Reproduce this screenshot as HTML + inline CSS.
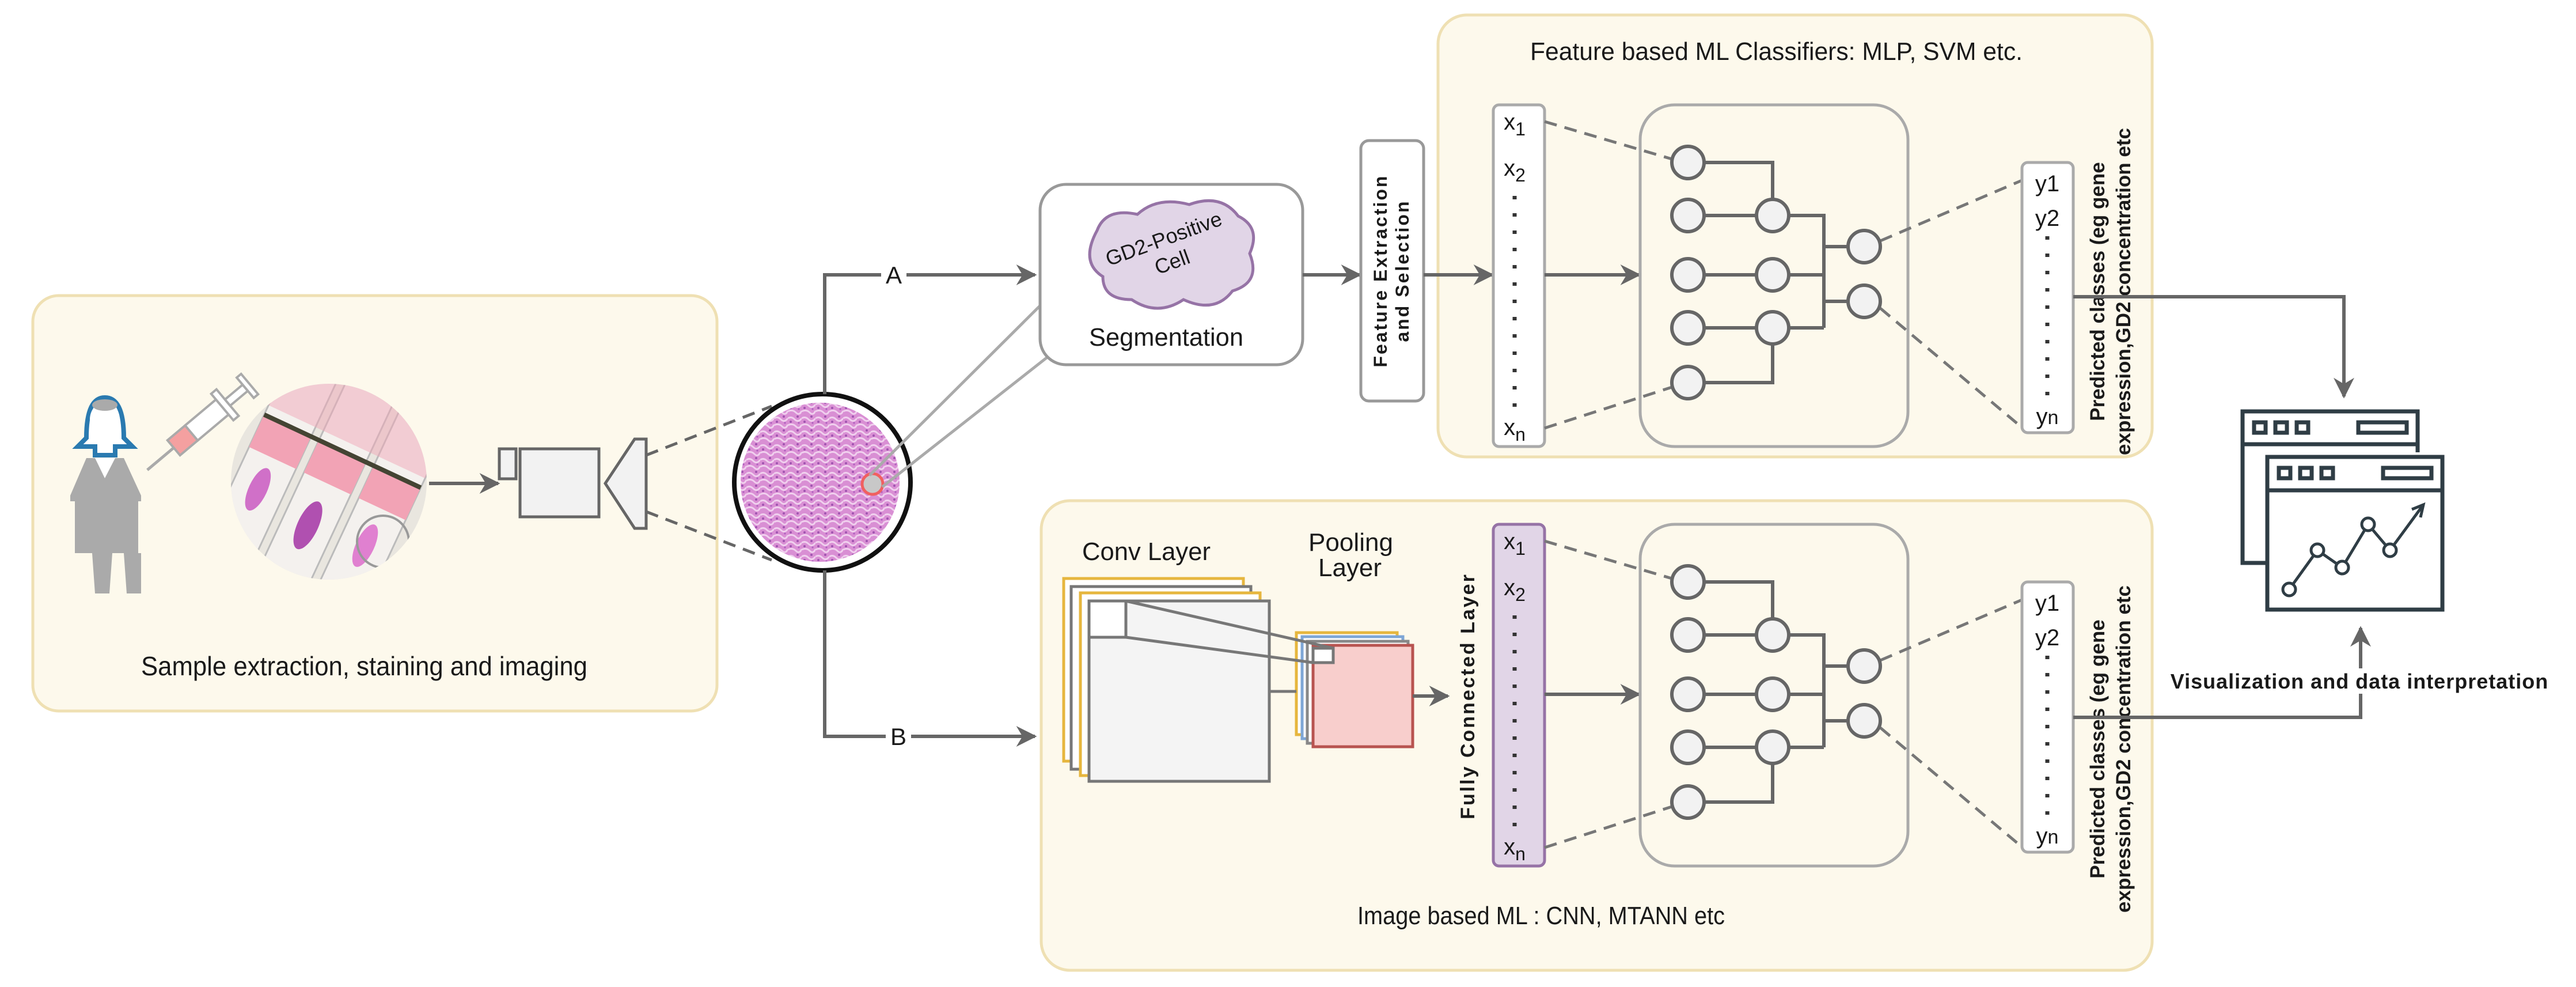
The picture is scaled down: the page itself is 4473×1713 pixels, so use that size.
<!DOCTYPE html>
<html><head><meta charset="utf-8"><style>
html,body{margin:0;padding:0;background:#fff}
svg{display:block}
text{font-family:"Liberation Sans",sans-serif;fill:#1a1a1a}
</style></head><body>
<svg width="4473" height="1713" viewBox="0 0 4473 1713" xmlns="http://www.w3.org/2000/svg">
<defs>
<marker id="ar" viewBox="0 0 10 10" refX="9" refY="5" markerWidth="6" markerHeight="6" orient="auto" markerUnits="strokeWidth"><path d="M0,0 L10,5 L0,10 L3,5 Z" fill="#666"/></marker>
<pattern id="tis" width="24" height="24" patternUnits="userSpaceOnUse">
<rect width="24" height="24" fill="#d98fd4"/>
<path d="M0 6 Q6 2 12 8 T24 6 M0 18 Q8 14 14 20 T24 17" stroke="#f0d0ee" stroke-width="3" fill="none"/>
<circle cx="5" cy="12" r="2" fill="#a054b0"/><circle cx="17" cy="3" r="2" fill="#a054b0"/><circle cx="19" cy="14" r="1.6" fill="#b060c0"/>
</pattern>
<g id="nn">
<rect x="2848" y="182" width="465" height="593" rx="60" fill="none" stroke="#aaa" stroke-width="5"/>
<g fill="none" stroke="#666" stroke-width="6">
<path d="M2959 282 H3078 V346 M2959 374 H3050 M2959 477 H3050 M2959 569 H3050 M2959 664 H3078 V597"/>
<path d="M3106 374 H3167 V569 M3106 477 H3167 M3106 569 H3167 M3167 428 H3209 M3167 523 H3209"/>
</g>
<g fill="none" stroke="#777" stroke-width="5" stroke-dasharray="22 14">
<path d="M2682 211 L2903 276 M2682 743 L2903 672 M3265 418 L3511 313 M3265 535 L3511 742"/>
</g>
<g fill="#f2f2f2" stroke="#666" stroke-width="6">
<circle cx="2931" cy="282" r="28"/><circle cx="2931" cy="374" r="28"/><circle cx="2931" cy="477" r="28"/><circle cx="2931" cy="569" r="28"/><circle cx="2931" cy="664" r="28"/>
<circle cx="3078" cy="374" r="28"/><circle cx="3078" cy="477" r="28"/><circle cx="3078" cy="569" r="28"/>
<circle cx="3237" cy="428" r="28"/><circle cx="3237" cy="523" r="28"/>
</g>
<rect x="3511" y="282" width="89" height="469" rx="10" fill="#fff" stroke="#aaa" stroke-width="5"/>
<text x="3555" y="332" font-size="40" text-anchor="middle">y1</text>
<text x="3555" y="392" font-size="40" text-anchor="middle">y2</text>
<text x="3555" y="736" font-size="40" text-anchor="middle">y<tspan font-size="34">n</tspan></text>
<line x1="3555" y1="410" x2="3555" y2="700" stroke="#333" stroke-width="7" stroke-dasharray="6 24"/>
</g>
</defs>

<!-- left box -->
<rect x="57" y="513" width="1188" height="721" rx="45" fill="#fdf9ec" stroke="#efe0b3" stroke-width="5"/>
<text x="245" y="1172" font-size="46" textLength="775" lengthAdjust="spacingAndGlyphs">Sample extraction, staining and imaging</text>
<!-- person -->
<g>
<path d="M150 760 Q150 690 182 690 Q215 690 215 760 L230 775 L200 775 L200 790 L165 790 L165 775 L135 775 Z" fill="#fff" stroke="#2a7ab0" stroke-width="8"/>
<ellipse cx="182" cy="728" rx="26" ry="30" fill="#fff"/>
<ellipse cx="182" cy="703" rx="22" ry="10" fill="#aaa"/>
<path d="M150 795 L215 795 L245 860 L245 870 L240 870 L240 960 L245 960 L245 1030 L220 1030 L215 960 L195 960 L190 1030 L165 1030 L160 960 L130 960 L130 870 L122 870 L122 860 Z" fill="#aaa"/>
<path d="M165 795 L182 830 L200 795 Z" fill="#fff"/>
</g>
<!-- syringe -->
<g transform="rotate(-40 340 745)">
<rect x="290" y="728" width="110" height="34" fill="#f4a0a0" stroke="#aaa" stroke-width="4"/>
<rect x="330" y="728" width="70" height="34" fill="#fff" stroke="#aaa" stroke-width="4"/>
<line x1="230" y1="745" x2="290" y2="745" stroke="#aaa" stroke-width="5"/>
<rect x="400" y="715" width="12" height="60" fill="#fff" stroke="#aaa" stroke-width="4"/>
<rect x="412" y="738" width="40" height="14" fill="#fff" stroke="#aaa" stroke-width="4"/>
<rect x="452" y="722" width="10" height="46" fill="#fff" stroke="#aaa" stroke-width="4"/>
</g>
<!-- slides circle -->
<clipPath id="sc"><circle cx="571" cy="836" r="170"/></clipPath>
<g clip-path="url(#sc)">
<rect x="390" y="660" width="370" height="360" fill="#e9e6df"/>
<g transform="rotate(25 571 836)">
<rect x="420" y="600" width="90" height="480" fill="#f4f1ee" stroke="#bbb" stroke-width="3"/>
<rect x="525" y="600" width="90" height="480" fill="#f4f1ee" stroke="#bbb" stroke-width="3"/>
<rect x="630" y="600" width="90" height="480" fill="#f4f1ee" stroke="#bbb" stroke-width="3"/>
<rect x="420" y="780" width="90" height="60" fill="#f2a3b5"/>
<rect x="525" y="780" width="90" height="60" fill="#f2a3b5"/>
<rect x="630" y="780" width="90" height="60" fill="#f2a3b5"/>
<path d="M420 778 h300" stroke="#443" stroke-width="8"/>
<ellipse cx="465" cy="900" rx="16" ry="40" fill="#d070c8"/>
<ellipse cx="570" cy="920" rx="18" ry="45" fill="#b050b0"/>
<ellipse cx="675" cy="910" rx="16" ry="40" fill="#e080d0"/>
<rect x="420" y="600" width="300" height="160" fill="#f0a8b8" opacity="0.5"/>
</g>
<circle cx="665" cy="940" r="45" fill="none" stroke="#999" stroke-width="4"/>
</g>
<!-- arrow to camera -->
<line x1="745" y1="839" x2="865" y2="839" stroke="#666" stroke-width="6" marker-end="url(#ar)"/>
<!-- camera -->
<rect x="867" y="779" width="29" height="52" fill="#f2f2f2" stroke="#666" stroke-width="5"/>
<rect x="903" y="779" width="137" height="118" fill="#f2f2f2" stroke="#666" stroke-width="5"/>
<path d="M1051 839 L1102 762 L1122 762 L1122 917 L1102 917 Z" fill="#f2f2f2" stroke="#666" stroke-width="5"/>
<g stroke="#666" stroke-width="5" stroke-dasharray="22 14"><path d="M1122 790 L1340 705 M1122 888 L1340 972"/></g>
<!-- tissue -->
<circle cx="1428" cy="837" r="153" fill="#fff" stroke="#111" stroke-width="8"/>
<circle cx="1424" cy="837" r="138" fill="url(#tis)"/>
<circle cx="1515" cy="840" r="18" fill="#c8c8c8" stroke="#f06060" stroke-width="5"/>
<g stroke="#aaa" stroke-width="5"><path d="M1510 825 L1890 447 M1532 845 L1928 534"/></g>
<!-- A/B connectors -->
<path d="M1432 684 V477 H1797" fill="none" stroke="#666" stroke-width="6" marker-end="url(#ar)"/>
<path d="M1432 990 V1278 H1797" fill="none" stroke="#666" stroke-width="6" marker-end="url(#ar)"/>
<rect x="1530" y="455" width="44" height="44" fill="#fff"/>
<text x="1552" y="492" font-size="42" text-anchor="middle">A</text>
<rect x="1538" y="1256" width="44" height="44" fill="#fff"/>
<text x="1560" y="1293" font-size="42" text-anchor="middle">B</text>

<!-- segmentation -->
<rect x="1806" y="320" width="456" height="313" rx="45" fill="#fff" stroke="#999" stroke-width="5"/>
<path d="M1905 400 Q1920 360 1975 372 Q2010 340 2065 355 Q2120 335 2150 375 Q2190 395 2170 440 Q2190 490 2140 505 Q2110 545 2055 520 Q2010 550 1965 520 Q1915 520 1915 480 Q1875 455 1905 400 Z" fill="#e1d5e7" stroke="#9673a6" stroke-width="5"/>
<g transform="rotate(-20 2030 440)"><text x="2030" y="425" font-size="36" text-anchor="middle">GD2-Positive</text><text x="2030" y="468" font-size="36" text-anchor="middle">Cell</text></g>
<text x="1891" y="600" font-size="44" textLength="268" lengthAdjust="spacingAndGlyphs">Segmentation</text>
<line x1="2262" y1="477" x2="2361" y2="477" stroke="#666" stroke-width="6" marker-end="url(#ar)"/>
<!-- feature extraction -->
<rect x="2363" y="244" width="109" height="452" rx="14" fill="#fff" stroke="#999" stroke-width="5"/>
<g transform="rotate(-90 2418 470)"><text x="2418" y="460" font-size="32" font-weight="bold" letter-spacing="3" text-anchor="middle">Feature Extraction</text><text x="2418" y="498" font-size="32" font-weight="bold" letter-spacing="3" text-anchor="middle">and Selection</text></g>

<!-- top yellow box -->
<rect x="2497" y="26" width="1240" height="767" rx="50" fill="#fdf9ec" stroke="#efe0b3" stroke-width="5"/>
<text x="2657" y="104" font-size="44" textLength="855" lengthAdjust="spacingAndGlyphs">Feature based ML Classifiers: MLP, SVM etc.</text>
<line x1="2472" y1="477" x2="2591" y2="477" stroke="#666" stroke-width="6" marker-end="url(#ar)"/>
<rect x="2593" y="182" width="89" height="593" rx="10" fill="#fff" stroke="#aaa" stroke-width="5"/>
<text x="2630" y="225" font-size="40" text-anchor="middle">x<tspan font-size="32" dy="10">1</tspan></text>
<text x="2630" y="305" font-size="40" text-anchor="middle">x<tspan font-size="32" dy="10">2</tspan></text>
<text x="2630" y="755" font-size="40" text-anchor="middle">x<tspan font-size="32" dy="10">n</tspan></text>
<line x1="2630" y1="340" x2="2630" y2="720" stroke="#333" stroke-width="7" stroke-dasharray="6 24"/>
<line x1="2682" y1="477" x2="2846" y2="477" stroke="#666" stroke-width="6" marker-end="url(#ar)"/>
<use href="#nn"/>
<g transform="rotate(-90 3665 506)"><text x="3665" y="495" font-size="35" font-weight="bold" text-anchor="middle">Predicted classes (eg gene</text><text x="3665" y="540" font-size="35" font-weight="bold" text-anchor="middle">expression,GD2 concentration etc</text></g>

<!-- bottom yellow box -->
<rect x="1808" y="869" width="1929" height="815" rx="50" fill="#fdf9ec" stroke="#efe0b3" stroke-width="5"/>
<text x="1879" y="972" font-size="44" textLength="223" lengthAdjust="spacingAndGlyphs">Conv Layer</text>
<text x="2272" y="956" font-size="44" textLength="147" lengthAdjust="spacingAndGlyphs">Pooling</text>
<text x="2289" y="1000" font-size="44" textLength="110" lengthAdjust="spacingAndGlyphs">Layer</text>
<rect x="1847" y="1004" width="312" height="317" fill="#fff" stroke="#e6b63e" stroke-width="5"/>
<rect x="1860" y="1018" width="312" height="317" fill="#fff" stroke="#777" stroke-width="5"/>
<rect x="1876" y="1029" width="312" height="317" fill="#fff" stroke="#e6b63e" stroke-width="5"/>
<rect x="1891" y="1043" width="313" height="313" fill="#f4f4f4" stroke="#777" stroke-width="5"/>
<rect x="1891" y="1043" width="64" height="63" fill="#fff" stroke="#777" stroke-width="5"/>
<rect x="2251" y="1098" width="175" height="177" fill="#fff" stroke="#e6b63e" stroke-width="5"/>
<rect x="2261" y="1105" width="175" height="177" fill="#fff" stroke="#7ea6d6" stroke-width="5"/>
<rect x="2270" y="1113" width="175" height="177" fill="#fff" stroke="#888" stroke-width="5"/>
<rect x="2280" y="1120" width="173" height="176" fill="#f8cecc" stroke="#b85450" stroke-width="5"/>
<rect x="2280" y="1125" width="35" height="25" fill="#fff" stroke="#777" stroke-width="5"/>
<g stroke="#777" stroke-width="5"><path d="M1955 1043 L2315 1125 M1955 1106 L2280 1150 M2204 1200 L2251 1200"/></g>
<line x1="2453" y1="1208" x2="2514" y2="1208" stroke="#666" stroke-width="6" marker-end="url(#ar)"/>
<g transform="rotate(-90 2548 1208)"><text x="2548" y="1220" font-size="34" font-weight="bold" letter-spacing="3" text-anchor="middle">Fully Connected Layer</text></g>
<g transform="translate(0,728)">
<rect x="2593" y="182" width="89" height="593" rx="10" fill="#e1d5e7" stroke="#9673a6" stroke-width="5"/>
<text x="2630" y="225" font-size="40" text-anchor="middle">x<tspan font-size="32" dy="10">1</tspan></text>
<text x="2630" y="305" font-size="40" text-anchor="middle">x<tspan font-size="32" dy="10">2</tspan></text>
<text x="2630" y="755" font-size="40" text-anchor="middle">x<tspan font-size="32" dy="10">n</tspan></text>
<line x1="2630" y1="340" x2="2630" y2="720" stroke="#333" stroke-width="7" stroke-dasharray="6 24"/>
<line x1="2682" y1="477" x2="2846" y2="477" stroke="#666" stroke-width="6" marker-end="url(#ar)"/>
<use href="#nn"/>
</g>
<text x="2357" y="1604" font-size="44" textLength="638" lengthAdjust="spacingAndGlyphs">Image based ML : CNN, MTANN etc</text>
<g transform="rotate(-90 3665 1300)"><text x="3665" y="1289" font-size="35" font-weight="bold" text-anchor="middle">Predicted classes (eg gene</text><text x="3665" y="1334" font-size="35" font-weight="bold" text-anchor="middle">expression,GD2 concentration etc</text></g>

<!-- output connectors -->
<path d="M3600 515 H4070 V688" fill="none" stroke="#666" stroke-width="6" marker-end="url(#ar)"/>
<path d="M3600 1245 H4099 V1090" fill="none" stroke="#666" stroke-width="6" marker-end="url(#ar)"/>
<rect x="3745" y="1160" width="700" height="44" fill="#fff"/>
<text x="4097" y="1195" font-size="36" font-weight="bold" text-anchor="middle" letter-spacing="1">Visualization and data interpretation</text>
<!-- icon -->
<g fill="none" stroke="#2f3d45" stroke-width="7">
<path d="M3937 977 H3894 V714 H4198 V785"/>
<line x1="3894" y1="771" x2="4198" y2="771"/>
<rect x="3914" y="733" width="20" height="18"/><rect x="3951" y="733" width="20" height="18"/><rect x="3988" y="733" width="20" height="18"/><rect x="4095" y="733" width="84" height="18"/>
<rect x="3937" y="793" width="304" height="265" fill="#fff"/>
<line x1="3937" y1="851" x2="4241" y2="851"/>
<rect x="3957" y="812" width="20" height="18"/><rect x="3994" y="812" width="20" height="18"/><rect x="4031" y="812" width="20" height="18"/><rect x="4138" y="812" width="84" height="18"/>
<path d="M3975 1023 L4024 955 L4067 985 L4112 910 L4150 955 L4205 880" stroke-width="5"/>
<path d="M4188 884 L4208 876 L4203 898" stroke-width="5"/>
<g fill="#fff" stroke-width="5"><circle cx="3975" cy="1023" r="11"/><circle cx="4024" cy="955" r="11"/><circle cx="4067" cy="985" r="11"/><circle cx="4112" cy="910" r="11"/><circle cx="4150" cy="955" r="11"/></g>
</g>
</svg>
</body></html>
